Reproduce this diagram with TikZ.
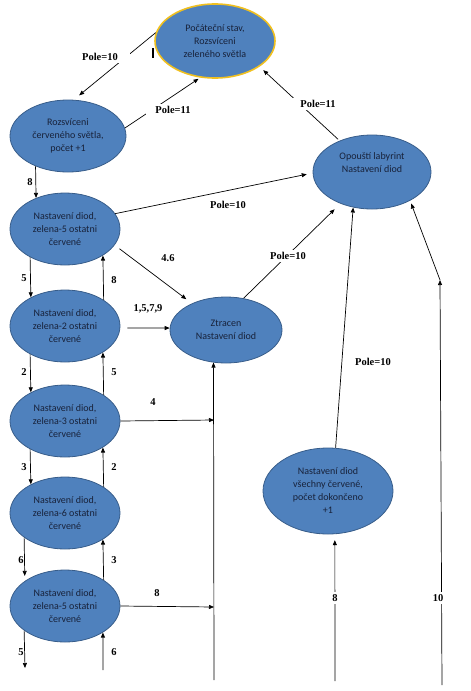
\documentclass[tikz,border=0pt]{standalone}
\usepackage{fontspec}
\setmainfont{Liberation Serif}
\newfontfamily\carlito{Carlito}
\usepackage{xcolor}
\usetikzlibrary{shapes.geometric, arrows.meta, positioning, calc}
\definecolor{stateblue}{HTML}{4F81BD}
\definecolor{stateedge}{HTML}{385D8A}
\definecolor{startedge}{HTML}{F0C020}
\definecolor{statetext}{HTML}{18223A}

\begin{document}
\begin{tikzpicture}[
    x=1pt, y=-1pt,
    state/.style={ellipse, draw=stateedge, fill=stateblue, line width=0.8pt, inner sep=0pt, align=center, text=statetext, font=\carlito\fontsize{10}{13}\selectfont},
    startstate/.style={state, draw=startedge, line width=1.6pt},
    column/.style={state, minimum width=110pt, minimum height=72pt},
    lbl/.style={font=\bfseries\fontsize{10.5}{12}\selectfont, inner sep=2pt},
    onlbl/.style={lbl, fill=white, inner xsep=6pt},
    conn/.style={-{Triangle[length=5pt, width=4pt]}, line width=0.7pt}
]
\useasboundingbox (0,0) rectangle (471,691);

% States
\node[startstate, minimum width=120pt, minimum height=74pt] (start) at (215,41) {Počáteční stav,\\Rozsvíceni\\zeleného světla};
\node[state, minimum width=116pt, minimum height=72pt] (red) at (68,136) {Rozsvíceni\\červeného světla,\\počet +1};
\node[state, minimum width=118pt, minimum height=74pt] (opou) at (372,172) {Opouští labyrint\\Nastavení diod\\[6pt]};
\node[column] (n1) at (65,229) {Nastavení diod,\\zelena-5 ostatni\\červené};
\node[column] (n2) at (65,326) {Nastavení diod,\\zelena-2 ostatni\\červené};
\node[column] (n3) at (65,421) {Nastavení diod,\\zelena-3 ostatni\\červené};
\node[column] (n4) at (65,513) {Nastavení diod,\\zelena-6 ostatni\\červené};
\node[column] (n5) at (65,606) {Nastavení diod,\\zelena-5 ostatni\\červené};
\node[state, minimum width=112pt, minimum height=66pt] (ztr) at (226,330) {Ztracen\\Nastavení diod};
\node[state, minimum width=130pt, minimum height=86pt] (vse) at (328,491) {Nastavení diod\\všechny červené,\\počet dokončeno\\+1};

% Free ends
\coordinate (lostin) at (214,680);
\coordinate (j4) at (214,420);
\coordinate (j8) at (214,607);
\coordinate (vsein) at (335,681);
\coordinate (outin) at (442,685);
\coordinate (outmid) at (440,280);
\coordinate (n5down) at (25,668);
\coordinate (n5up) at (103,670);

% Top triangle
\draw[conn, shorten >=7pt] (start.172) -- (red.81);
\draw[conn, shorten >=2pt] (red.8) -- (start.248);
\draw[conn, shorten <=2pt, shorten >=5pt] (opou.136) -- (start.330);
\draw[conn] (red.223) -- (n1.133.5);
\draw[conn, shorten >=6pt] (n1.17.7) -- (opou.181);
\draw[conn, shorten <=6pt, shorten >=7pt] (n1.342) -- (ztr.142);
\draw[conn, shorten >=8pt] (ztr.61) -- (opou.225);

% Column
\draw[conn] (n1.219.8) -- (n2.140.2);
\draw[conn] (n2.34.4) -- (n1.325.6);
\draw[conn] (n2.219.8) -- (n3.140.2);
\draw[conn] (n3.34.4) -- (n2.325.6);
\draw[conn] (n3.219.8) -- (n4.140.2);
\draw[conn] (n4.34.4) -- (n3.325.6);
\draw[conn, shorten >=5pt] (n4.211.7) -- (n5.148.3);
\draw[conn] (n5.34.4) -- (n4.325.6);
\draw[conn] (n5.211.7) -- (n5down);
\draw[conn] (n5up) -- (n5.325.6);

% To Ztracen
\draw[conn, shorten <=7pt] (n2.358) -- (ztr.178);
\draw[conn] (n3.east) -- (j4);
\draw[conn] (n5.east) -- (j8);
\draw[conn] (lostin) -- (ztr.249.6);

% Right side
\draw[conn, shorten >=6pt] (vsein) -- (vse.279.3);
\draw[conn] (vse.80.7) -- (opou.242.2);
\draw[conn] (outin) -- (outmid);
\draw[conn, shorten >=3pt] (outmid) -- (opou.323.6);

% Cursor mark
\draw[line width=1.2pt] (153,48) -- (153,58);

% Labels
\node[onlbl, inner xsep=12pt] (l1) at (100,57) {Pole=10};
\node[onlbl, inner xsep=9pt] (l2) at (173,110) {Pole=11};
\node[onlbl, inner xsep=8pt] (l3) at (318,104) {Pole=11};
\node[lbl] (l4) at (30,182) {8};
\node[lbl] (l5) at (228,205) {Pole=10};
\node[lbl] (l6) at (168,258) {4.6};
\node[onlbl] (l7) at (288,256) {Pole=10};
\node[lbl] (l8) at (24,278) {5};
\node[lbl] (l9) at (114,280) {8};
\node[lbl] (l10) at (148,309) {1,5,7,9};
\node[lbl] (l11) at (24,372) {2};
\node[lbl] (l12) at (114,372) {5};
\node[lbl] (l13) at (153,402) {4};
\node[lbl] (l14) at (24,467) {3};
\node[lbl] (l15) at (114,467) {2};
\node[lbl] (l16) at (21,560) {6};
\node[lbl] (l17) at (114,560) {3};
\node[lbl] (l18) at (157,593) {8};
\node[lbl] (l19) at (21,652) {5};
\node[lbl] (l20) at (114,652) {6};
\node[lbl] (l21) at (373,362) {Pole=10};
\node[onlbl, inner xsep=3pt] (l22) at (335,598) {8};
\node[onlbl, inner xsep=3pt] (l23) at (438,598) {10};

\end{tikzpicture}
\end{document}
